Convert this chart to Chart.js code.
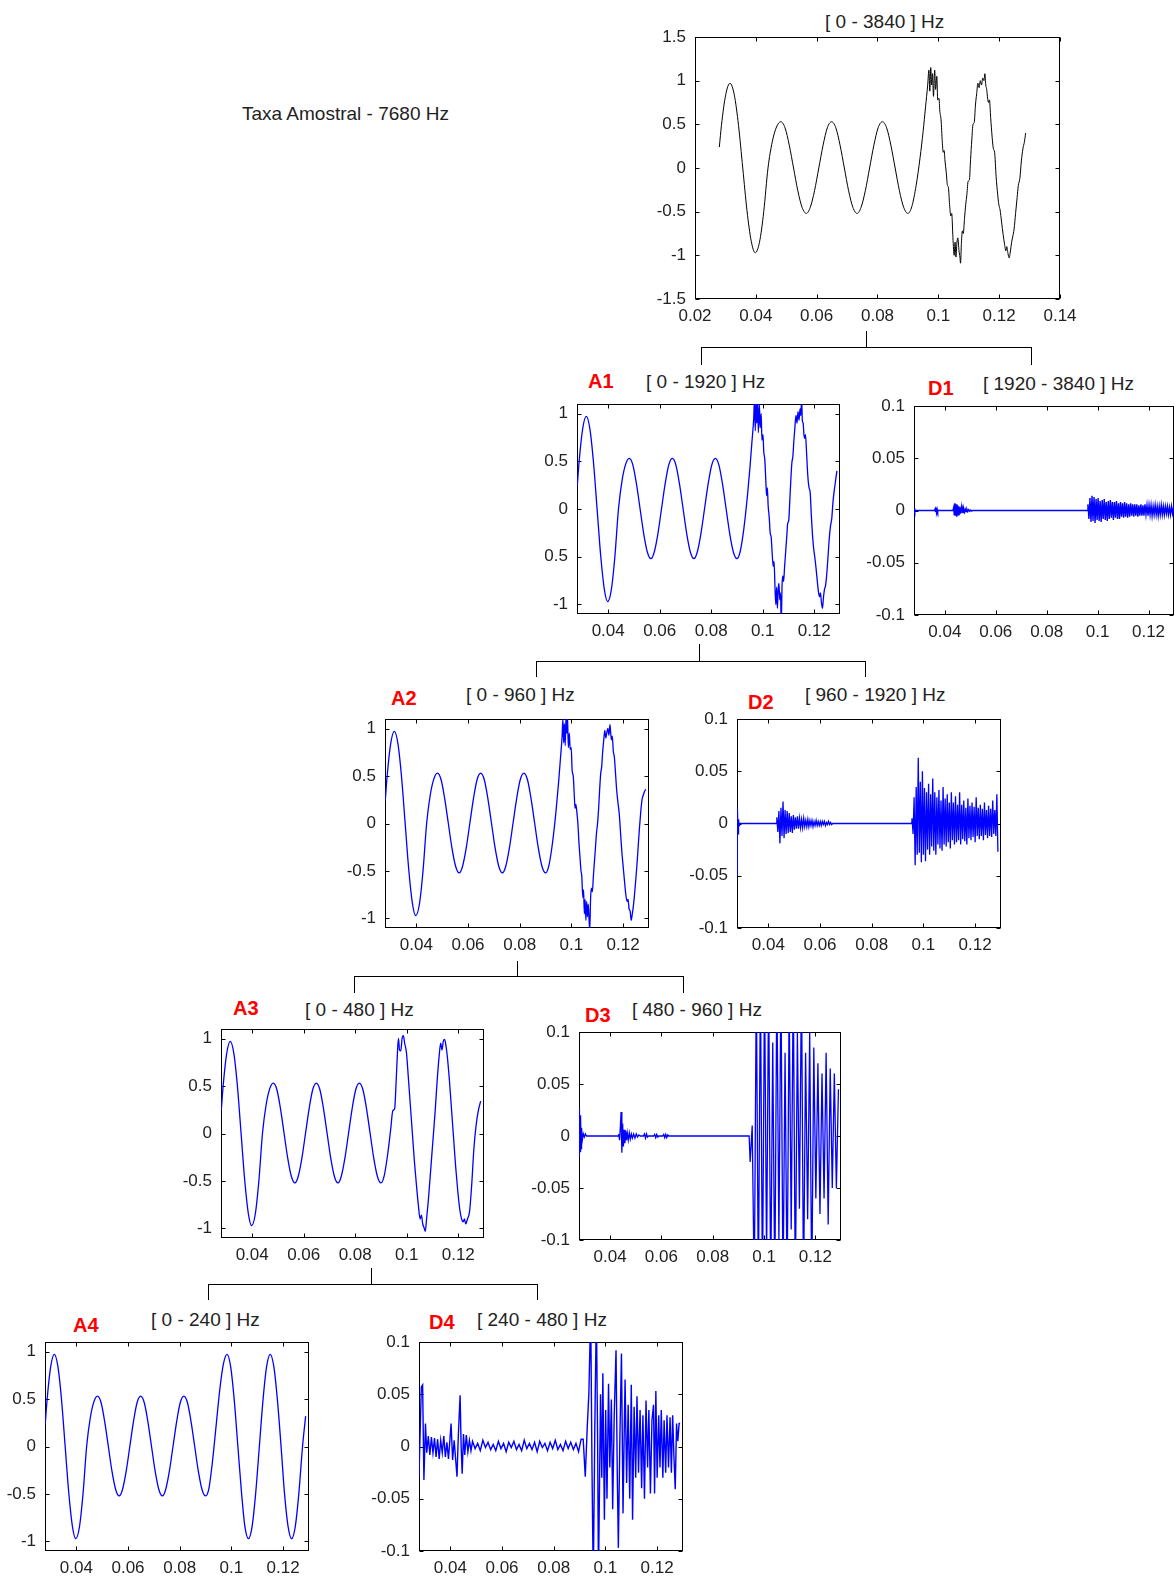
<!DOCTYPE html>
<html>
<head>
<meta charset="utf-8">
<script src="https://cdn.jsdelivr.net/npm/chart.js@4.4.1/dist/chart.umd.min.js"></script>
<style>
html, body { margin: 0; padding: 0; overflow: hidden; background: #fff; }
body { position: relative; width: 1174px; height: 1577px; font-family: "Liberation Sans", Arial, sans-serif; }
.painel { position: absolute; }
.titulo { position: absolute; white-space: nowrap; font-size: 19px; line-height: 19px; color: #222; }
.rotulo { position: absolute; white-space: nowrap; font-size: 20px; line-height: 20px; font-weight: bold; color: #f00; }
.haste { position: absolute; width: 0; border-left: 1px solid #000; }
.ramo { position: absolute; border: 1px solid #000; border-bottom: none; }
</style>
</head>
<body>

<div class="titulo" style="left:242px;top:104px">Taxa Amostral - 7680 Hz</div>

<div class="titulo" style="left:825px;top:12px">[ 0 - 3840 ] Hz</div>
<div class="rotulo" style="left:588px;top:371px">A1</div>
<div class="titulo" style="left:646px;top:372px">[ 0 - 1920 ] Hz</div>
<div class="rotulo" style="left:928px;top:378px">D1</div>
<div class="titulo" style="left:983px;top:374px">[ 1920 - 3840 ] Hz</div>
<div class="rotulo" style="left:391px;top:688px">A2</div>
<div class="titulo" style="left:466px;top:685px">[ 0 - 960 ] Hz</div>
<div class="rotulo" style="left:748px;top:692px">D2</div>
<div class="titulo" style="left:805px;top:685px">[ 960 - 1920 ] Hz</div>
<div class="rotulo" style="left:233px;top:998px">A3</div>
<div class="titulo" style="left:305px;top:1000px">[ 0 - 480 ] Hz</div>
<div class="rotulo" style="left:585px;top:1005px">D3</div>
<div class="titulo" style="left:632px;top:1000px">[ 480 - 960 ] Hz</div>
<div class="rotulo" style="left:73px;top:1315px">A4</div>
<div class="titulo" style="left:151px;top:1310px">[ 0 - 240 ] Hz</div>
<div class="rotulo" style="left:429px;top:1312px">D4</div>
<div class="titulo" style="left:477px;top:1310px">[ 240 - 480 ] Hz</div>

<!-- arvore de decomposicao -->
<div class="haste" style="left:866px;top:331px;height:16px"></div>
<div class="ramo" style="left:701px;top:347px;width:329px;height:17px"></div>
<div class="haste" style="left:699px;top:644px;height:17px"></div>
<div class="ramo" style="left:536px;top:661px;width:328px;height:15px"></div>
<div class="haste" style="left:517px;top:961px;height:15px"></div>
<div class="ramo" style="left:354px;top:976px;width:328px;height:16px"></div>
<div class="haste" style="left:371px;top:1268px;height:16px"></div>
<div class="ramo" style="left:208px;top:1284px;width:328px;height:15px"></div>

<script>
// ---- dados (tempo em s, amplitude) ----
const trechoSuave = [[0.0280,0.24],[0.0287,0.49],[0.0301,0.84],[0.0315,0.97],[0.0329,0.84],[0.0343,0.49],[0.0357,0.0],[0.0371,-0.49],[0.0385,-0.84],[0.0398,-0.97],[0.0412,-0.85],[0.0426,-0.5],[0.0440,0.0],[0.0454,0.3],[0.0468,0.47],[0.0482,0.53],[0.0496,0.46],[0.0510,0.26],[0.0524,0.0],[0.0538,-0.26],[0.0552,-0.45],[0.0566,-0.52],[0.0579,-0.45],[0.0593,-0.26],[0.0607,0.0],[0.0621,0.26],[0.0635,0.46],[0.0649,0.53],[0.0663,0.46],[0.0677,0.26],[0.0691,0.0],[0.0705,-0.26],[0.0719,-0.45],[0.0733,-0.52],[0.0746,-0.45],[0.0760,-0.26],[0.0774,0.0],[0.0788,0.26],[0.0802,0.46],[0.0816,0.53],[0.0830,0.46],[0.0844,0.26],[0.0858,0.0],[0.0872,-0.26],[0.0886,-0.45],[0.0900,-0.52],[0.0913,-0.44]];

const originalFim = [[0.0927,-0.2],[0.0940,0.12],[0.0950,0.42],[0.0958,0.7],[0.0965,0.95],[0.0969,1.12],[0.0972,0.88],[0.0975,1.15],[0.0978,0.95],[0.0981,1.08],[0.0984,0.82],[0.0988,1.12],[0.0991,0.9],[0.0995,1.05],[0.0998,0.78],[0.1002,0.8],[0.1005,0.65],[0.1009,0.55],[0.1013,0.3],[0.1016,0.18],[0.1019,0.2],[0.1022,0.08],[0.1026,-0.05],[0.1030,-0.2],[0.1033,-0.22],[0.1037,-0.42],[0.1041,-0.55],[0.1044,-0.52],[0.1048,-0.8],[0.1052,-1.0],[0.1055,-0.85],[0.1058,-1.02],[0.1061,-0.86],[0.1064,-0.8],[0.1068,-0.95],[0.1071,-1.02],[0.1073,-1.09],[0.1076,-0.85],[0.1079,-0.72],[0.1082,-0.75],[0.1086,-0.58],[0.1090,-0.42],[0.1094,-0.3],[0.1098,-0.15],[0.1102,-0.14],[0.1106,0.1],[0.1110,0.32],[0.1114,0.5],[0.1118,0.52],[0.1122,0.72],[0.1126,0.85],[0.1130,0.97],[0.1134,0.92],[0.1138,1.0],[0.1142,0.95],[0.1146,1.03],[0.1150,1.0],[0.1153,1.08],[0.1156,0.95],[0.1159,0.9],[0.1162,0.8],[0.1165,0.75],[0.1168,0.78],[0.1172,0.58],[0.1177,0.35],[0.1181,0.22],[0.1185,0.18],[0.1190,-0.1],[0.1195,-0.3],[0.1199,-0.42],[0.1203,-0.48],[0.1208,-0.62],[0.1213,-0.76],[0.1218,-0.88],[0.1222,-0.95],[0.1225,-0.9],[0.1229,-0.98],[0.1233,-1.03],[0.1237,-0.95],[0.1241,-0.85],[0.1245,-0.78],[0.1249,-0.7],[0.1254,-0.52],[0.1259,-0.34],[0.1263,-0.2],[0.1268,-0.12],[0.1273,0.08],[0.1278,0.22],[0.1283,0.3],[0.1287,0.4]];

const a1Fim = [[0.0927,-0.2],[0.0940,0.12],[0.0950,0.42],[0.0958,0.7],[0.0965,0.95],[0.0968,1.15],[0.0971,0.82],[0.0974,1.12],[0.0977,0.9],[0.0980,1.15],[0.0983,0.8],[0.0987,1.1],[0.0990,0.85],[0.0994,1.0],[0.0997,0.72],[0.1001,0.78],[0.1004,0.6],[0.1008,0.52],[0.1012,0.3],[0.1015,0.14],[0.1018,0.22],[0.1021,0.04],[0.1025,-0.08],[0.1029,-0.25],[0.1033,-0.3],[0.1037,-0.48],[0.1041,-0.6],[0.1044,-0.55],[0.1048,-0.85],[0.1051,-1.0],[0.1054,-0.82],[0.1057,-1.04],[0.1060,-0.84],[0.1063,-0.78],[0.1066,-0.95],[0.1069,-0.88],[0.1072,-1.2],[0.1075,-0.8],[0.1078,-0.7],[0.1081,-0.76],[0.1085,-0.6],[0.1089,-0.45],[0.1093,-0.3],[0.1097,-0.15],[0.1101,-0.12],[0.1105,0.08],[0.1109,0.3],[0.1113,0.48],[0.1117,0.55],[0.1121,0.72],[0.1125,0.86],[0.1129,0.98],[0.1133,0.9],[0.1137,1.02],[0.1141,0.93],[0.1145,1.05],[0.1148,0.98],[0.1151,1.15],[0.1154,0.92],[0.1157,0.9],[0.1160,0.78],[0.1163,0.74],[0.1166,0.78],[0.1170,0.6],[0.1175,0.35],[0.1180,0.22],[0.1184,0.18],[0.1189,-0.08],[0.1194,-0.3],[0.1198,-0.42],[0.1202,-0.5],[0.1207,-0.62],[0.1212,-0.76],[0.1217,-0.88],[0.1221,-0.92],[0.1224,-0.88],[0.1228,-0.98],[0.1232,-1.04],[0.1236,-0.92],[0.1240,-0.84],[0.1244,-0.8],[0.1248,-0.7],[0.1253,-0.52],[0.1258,-0.32],[0.1263,-0.18],[0.1268,-0.1],[0.1273,0.08],[0.1278,0.2],[0.1283,0.3],[0.1288,0.4]];

const a2Fim = [[0.0927,-0.2],[0.0940,0.12],[0.0950,0.42],[0.0958,0.7],[0.0964,0.92],[0.0967,1.1],[0.0970,0.85],[0.0973,1.05],[0.0976,0.82],[0.0979,1.12],[0.0982,0.95],[0.0985,1.12],[0.0988,0.8],[0.0992,0.95],[0.0995,0.78],[0.0999,0.8],[0.1003,0.55],[0.1007,0.5],[0.1011,0.3],[0.1014,0.16],[0.1017,0.2],[0.1021,0.12],[0.1025,0.0],[0.1029,-0.2],[0.1033,-0.35],[0.1037,-0.5],[0.1040,-0.55],[0.1044,-0.78],[0.1047,-0.7],[0.1050,-0.95],[0.1053,-0.8],[0.1056,-1.02],[0.1059,-0.82],[0.1062,-0.98],[0.1065,-0.85],[0.1068,-1.0],[0.1071,-1.12],[0.1074,-0.8],[0.1077,-0.68],[0.1081,-0.72],[0.1085,-0.55],[0.1089,-0.4],[0.1093,-0.25],[0.1097,-0.1],[0.1101,0.0],[0.1105,0.15],[0.1109,0.35],[0.1113,0.52],[0.1117,0.6],[0.1121,0.76],[0.1125,0.88],[0.1129,0.98],[0.1133,0.9],[0.1137,0.96],[0.1141,1.0],[0.1145,0.93],[0.1149,1.04],[0.1152,0.95],[0.1155,0.88],[0.1158,0.92],[0.1162,0.76],[0.1166,0.7],[0.1170,0.55],[0.1175,0.35],[0.1180,0.22],[0.1185,0.1],[0.1190,-0.1],[0.1195,-0.3],[0.1200,-0.45],[0.1205,-0.6],[0.1210,-0.74],[0.1215,-0.82],[0.1219,-0.8],[0.1223,-0.9],[0.1227,-0.92],[0.1231,-1.02],[0.1235,-0.96],[0.1239,-0.88],[0.1243,-0.78],[0.1248,-0.62],[0.1253,-0.45],[0.1258,-0.25],[0.1263,-0.05],[0.1268,0.12],[0.1273,0.25],[0.1278,0.3],[0.1283,0.34],[0.1288,0.36]];

const a3Fim = [[0.0927,-0.2],[0.0938,0.05],[0.0946,0.24],[0.0953,0.26],[0.0959,0.55],[0.0964,0.85],[0.0968,1.0],[0.0972,0.88],[0.0977,0.87],[0.0982,1.0],[0.0987,1.03],[0.0992,0.95],[0.0999,0.85],[0.1006,0.6],[0.1014,0.3],[0.1022,0.0],[0.1030,-0.3],[0.1038,-0.55],[0.1045,-0.75],[0.1052,-0.9],[0.1057,-0.86],[0.1062,-0.95],[0.1067,-0.99],[0.1072,-1.03],[0.1077,-0.9],[0.1084,-0.7],[0.1092,-0.42],[0.1101,-0.1],[0.1110,0.22],[0.1118,0.55],[0.1126,0.82],[0.1132,0.95],[0.1137,0.88],[0.1142,0.97],[0.1147,0.99],[0.1152,0.93],[0.1158,0.8],[0.1166,0.55],[0.1174,0.25],[0.1182,-0.05],[0.1190,-0.35],[0.1198,-0.6],[0.1206,-0.8],[0.1213,-0.9],[0.1219,-0.93],[0.1224,-0.9],[0.1229,-0.95],[0.1236,-0.9],[0.1244,-0.82],[0.1252,-0.55],[0.1261,-0.15],[0.1270,0.1],[0.1278,0.24],[0.1287,0.34]];

const a4Fim = [[0.0927,-0.15],[0.0941,0.225],[0.0955,0.6],[0.0969,0.87],[0.0983,0.97],[0.0997,0.84],[0.1011,0.485],[0.1025,0.0],[0.1039,-0.485],[0.1052,-0.84],[0.1066,-0.97],[0.1080,-0.84],[0.1094,-0.485],[0.1108,0.0],[0.1122,0.485],[0.1136,0.84],[0.1150,0.97],[0.1164,0.84],[0.1178,0.485],[0.1192,0.0],[0.1205,-0.485],[0.1219,-0.84],[0.1233,-0.97],[0.1247,-0.84],[0.1261,-0.485],[0.1275,0.0],[0.1287,0.32]];

// detalhes: trechos quietos como pares, rajadas densas como amostras a partir de um instante inicial
const d1Inicio = [[0.0279,0.002],[0.0282,-0.001],[0.0285,0],[0.0360,0],[0.0362,0.0015],[0.0364,-0.0015],[0.0366,0.001],[0.0368,-0.001],[0.0370,0.0012],[0.0372,-0.001],[0.0374,0],[0.0432,0],[0.0435,0.003],[0.0437,-0.004],[0.0440,0.007],[0.0442,-0.005],[0.0445,0.006],[0.0447,-0.006],[0.0450,0.005],[0.0452,-0.004],[0.0455,0.004],[0.0457,-0.004],[0.0460,0.003],[0.0462,-0.003],[0.0465,0.003],[0.0467,-0.002],[0.0470,0.002],[0.0472,-0.002],[0.0475,0.0015],[0.0478,-0.0015],[0.0481,0.001],[0.0484,-0.001],[0.0487,0.001],[0.0490,-0.001],[0.0494,0.0008],[0.0498,-0.0008],[0.0502,0.0005],[0.0506,-0.0005],[0.0510,0],[0.0960,0]];
const d1Rajada = [0.006,-0.008,0.012,-0.011,0.014,-0.01,0.013,-0.012,0.011,-0.009,0.012,
  -0.01,0.009,-0.011,0.01,-0.008,0.011,-0.009,0.008,-0.01,0.009,-0.008,0.01,-0.007,0.008,-0.009,
  0.008,-0.007,0.009,-0.008,0.007,-0.008,0.008,-0.006,0.007,-0.007,0.008,-0.006,0.007,-0.007,0.006,-0.006,0.007,-0.005,0.006,-0.006,
  0.006,-0.005,0.006,-0.006,0.005,-0.005,0.006,-0.005,0.005,-0.005,0.006,-0.004,0.005,-0.005,0.005,-0.004,0.005,-0.005,0.004,-0.004,
  0.005,-0.004,0.004,-0.005,0.004,-0.004,0.005,-0.004,0.004,-0.004,0.004,-0.003,0.004,-0.004,0.003,-0.004,0.004,-0.003,0.003,-0.003];

const d2Inicio = [[0.0279,0.0],[0.0280,-0.05],[0.0281,0.015],[0.0283,-0.01],[0.0285,0.004],[0.0287,-0.002],[0.0289,0],[0.0432,0]];
const d2Rajada1 = [0.006,-0.008,0.012,-0.019,0.015,-0.012,0.021,-0.014,0.013,-0.01,0.012,-0.009,0.01,-0.008,0.007,-0.009,0.008,-0.006,0.006,-0.005,0.007,-0.005,0.005,-0.004,0.004,-0.004,0.005,-0.003,0.003,-0.003,0.004,-0.003,0.003,-0.002,0.003,-0.003,0.002,-0.002,0.003,-0.002,0.002,-0.002,0.002,-0.002,0.002,-0.001,0.002,-0.002,0.001,-0.001,0.002,-0.001,0.001,-0.001,0.0];
const d2Meio = [[0.0650,0],[0.0955,0]];
const d2Rajada2 = [0.005,-0.01,0.025,-0.04,0.035,-0.03,0.063,-0.028,0.04,-0.037,
  0.05,-0.03,0.034,-0.036,0.03,-0.025,0.038,-0.03,0.028,-0.022,
  0.043,-0.026,0.03,-0.03,0.025,-0.02,0.032,-0.024,0.022,-0.026,
  0.035,-0.02,0.024,-0.022,0.028,-0.018,0.02,-0.024,0.03,-0.016,
  0.02,-0.02,0.026,-0.018,0.018,-0.016,0.03,-0.02,0.018,-0.015,
  0.022,-0.017,0.015,-0.02,0.024,-0.014,0.017,-0.016,0.02,-0.013,
  0.016,-0.018,0.025,-0.012,0.015,-0.015,0.018,-0.012,0.014,-0.016,
  0.02,-0.011,0.013,-0.014,0.017,-0.012,0.014,-0.013,0.022,-0.01,
  0.013,-0.012,0.028,-0.027];

const d3Inicio = [[0.0279,0],[0.0280,-0.02],[0.0281,0.027],[0.0283,-0.015],[0.0285,0.02],[0.0287,-0.012],[0.0289,0.008],[0.0292,-0.004],[0.0296,0.002],[0.0300,-0.001],[0.0304,0.002],[0.0308,0],[0.0432,0],[0.0434,0.002],[0.0437,-0.004],[0.0440,0.008],[0.0443,0.023],[0.0446,-0.016],[0.0449,0.012],[0.0452,-0.01],[0.0455,0.006],[0.0458,-0.007],[0.0461,0.005],[0.0464,-0.004],[0.0467,0.003],[0.0471,-0.004],[0.0475,0.003],[0.0479,-0.003],[0.0483,0.002],[0.0487,-0.002],[0.0492,0.002],[0.0497,-0.002],[0.0502,0.002],[0.0507,-0.001],[0.0512,0.001],[0.0518,0],[0.0530,0],[0.0534,0.002],[0.0538,-0.002],[0.0542,0.002],[0.0546,-0.001],[0.0550,0],[0.0570,0],[0.0574,0.0015],[0.0578,-0.0015],[0.0582,0.0015],[0.0586,-0.001],[0.0590,0],[0.0605,0],[0.0609,0.0015],[0.0613,-0.0015],[0.0617,0.0015],[0.0621,-0.0015],[0.0625,0.001],[0.0629,0],[0.0942,0]];
const d3Rajada = [-0.025,0.01,-0.15,0.15,-0.15,0.15,-0.15,0.15,-0.12,0.15,
  -0.15,0.09,-0.15,0.15,-0.1,0.15,-0.15,0.08,-0.15,0.13,
  -0.09,0.15,-0.15,0.1,-0.07,0.15,-0.15,0.08,-0.08,0.1,
  -0.15,0.085,-0.06,0.07,-0.075,0.06,-0.06,0.08,-0.085,0.065,
  -0.05,0.06,-0.05,0.045];

const d4Inicio = [[0.0279,-0.029],[0.0283,0.01],[0.0288,0.057],[0.0293,0.059],[0.0298,-0.032],[0.0304,0.022],[0.0309,-0.006],[0.0315,0.01],[0.0321,-0.008],[0.0327,0.009],[0.0333,-0.006],[0.0339,0.008],[0.0345,-0.01],[0.0351,0.007],[0.0357,-0.012],[0.0363,0.006],[0.0369,-0.006],[0.0375,0.01],[0.0381,-0.01],[0.0387,0.004],[0.0393,-0.012],[0.0399,0.008],[0.0403,0.022],[0.0409,-0.013],[0.0415,0.006],[0.0420,-0.01],[0.0426,-0.029],[0.0431,0.01],[0.0438,0.049],[0.0442,0.0],[0.0446,-0.026],[0.0451,0.012],[0.0456,-0.008],[0.0462,0.011],[0.0468,-0.005],[0.0474,0.006],[0.0480,-0.004]];
const d4Meio = [0.005,-0.002,0.003,-0.004,0.006,-0.001,0.004,-0.003,0.002,-0.004,0.005,-0.002,0.003,-0.005,0.004,-0.001,0.005,-0.003,0.002,-0.004,0.006,-0.002,0.003,-0.003,0.004,-0.005,0.005,-0.001,0.003,-0.004,0.004,-0.002,0.006,-0.003,0.002,-0.004,0.005,-0.002,0.004,-0.003,0.003,-0.005,0.007];
const d4Fim = [[0.0914,0.007],[0.0922,-0.029],[0.0930,0.02],[0.0936,0.051],[0.0943,0.13],[0.0948,-0.02],[0.0953,-0.13],[0.0959,0.02],[0.0965,0.13],[0.0970,0.0],[0.0973,-0.13],[0.0981,0.05],[0.0986,-0.03],[0.0990,0.07],[0.0996,-0.07],[0.1001,0.035],[0.1006,-0.05],[0.1012,0.06],[0.1017,-0.02],[0.1023,0.045],[0.1028,-0.06],[0.1034,0.03],[0.1041,0.092],[0.1046,-0.03],[0.1050,-0.097],[0.1056,0.01],[0.1062,0.089],[0.1068,-0.064],[0.1073,0.02],[0.1076,0.064],[0.1082,-0.035],[0.1088,0.04],[0.1094,-0.05],[0.1100,0.059],[0.1105,-0.07],[0.1111,0.038],[0.1117,-0.03],[0.1122,0.048],[0.1128,-0.025],[0.1134,0.035],[0.1140,-0.04],[0.1145,0.03],[0.1151,-0.05],[0.1157,0.044],[0.1163,-0.02],[0.1168,0.035],[0.1174,-0.045],[0.1180,0.025],[0.1186,0.04],[0.1190,-0.045],[0.1195,0.053],[0.1200,-0.03],[0.1206,0.03],[0.1211,-0.02],[0.1216,0.035],[0.1222,-0.03],[0.1227,0.025],[0.1233,-0.025],[0.1238,0.03],[0.1244,-0.02],[0.1250,0.028],[0.1255,-0.025],[0.1260,0.03],[0.1265,-0.01],[0.1270,-0.041],[0.1275,0.022],[0.1280,0.005],[0.1285,0.022],[0.1289,0.022]];

// marcas dos eixos
const xTicksTopo = [0.02, 0.04, 0.06, 0.08, 0.1, 0.12, 0.14];
const xRotTopo = ['0.02', '0.04', '0.06', '0.08', '0.1', '0.12', '0.14'];
const yTicksTopo = [-1.5, -1, -0.5, 0, 0.5, 1, 1.5];
const yRotTopo = ['-1.5', '-1', '-0.5', '0', '0.5', '1', '1.5'];
const xTicks = [0.04, 0.06, 0.08, 0.1, 0.12];
const xRot = ['0.04', '0.06', '0.08', '0.1', '0.12'];
const yTicksA = [-1, -0.5, 0, 0.5, 1];
const yRotA = ['-1', '-0.5', '0', '0.5', '1'];
const yRotA1 = ['-1', '0.5', '0', '0.5', '1'];
const yTicksD = [-0.1, -0.05, 0, 0.05, 0.1];
const yRotD = ['-0.1', '-0.05', '0', '0.05', '0.1'];

// ---- montagem ----
function amostras(t0, passo, valores) {
  return valores.map((v, i) => [t0 + i * passo, v]);
}
const serie = {
  orig: trechoSuave.concat(originalFim),
  a1: trechoSuave.concat(a1Fim),
  a2: trechoSuave.concat(a2Fim),
  a3: trechoSuave.concat(a3Fim),
  a4: trechoSuave.concat(a4Fim),
  d1: d1Inicio.concat(amostras(0.0962, 0.0004, d1Rajada)),
  d2: d2Inicio.concat(amostras(0.0433, 0.0004, d2Rajada1), d2Meio, amostras(0.0956, 0.0004, d2Rajada2)),
  d3: d3Inicio.concat(amostras(0.0946, 0.0008, d3Rajada)),
  d4: d4Inicio.concat(amostras(0.0486, 0.001, d4Meio), d4Fim)
};

const paineis = [
  {s:'orig', L:695, T:37,   R:1060, B:299,  x:[0.02, 0.14],    xt:xTicksTopo, xr:xRotTopo, y:[-1.5, 1.5], yt:yTicksTopo, yr:yRotTopo, cor:'#000', w:1, suave:true},
  {s:'a1',   L:577, T:404,  R:840,  B:614,  x:[0.0279, 0.13], xt:xTicks, xr:xRot, y:[-1.1, 1.1], yt:yTicksA, yr:yRotA1, cor:'#00f', w:1.3, suave:true},
  {s:'d1',   L:914, T:406,  R:1174, B:615,  x:[0.0279, 0.13], xt:xTicks, xr:xRot, y:[-0.1, 0.1], yt:yTicksD, yr:yRotD, cor:'#00f', w:1.4, suave:false},
  {s:'a2',   L:385, T:719,  R:649,  B:928,  x:[0.0279, 0.13], xt:xTicks, xr:xRot, y:[-1.1, 1.1], yt:yTicksA, yr:yRotA, cor:'#00f', w:1.3, suave:true},
  {s:'d2',   L:737, T:719,  R:1001, B:928,  x:[0.0279, 0.13], xt:xTicks, xr:xRot, y:[-0.1, 0.1], yt:yTicksD, yr:yRotD, cor:'#00f', w:1.3, suave:false},
  {s:'a3',   L:221, T:1029, R:484,  B:1238, x:[0.0279, 0.13], xt:xTicks, xr:xRot, y:[-1.1, 1.1], yt:yTicksA, yr:yRotA, cor:'#00f', w:1.3, suave:true},
  {s:'d3',   L:579, T:1032, R:841,  B:1240, x:[0.0279, 0.13], xt:xTicks, xr:xRot, y:[-0.1, 0.1], yt:yTicksD, yr:yRotD, cor:'#00f', w:1.3, suave:false},
  {s:'a4',   L:45,  T:1342, R:309,  B:1551, x:[0.0279, 0.13], xt:xTicks, xr:xRot, y:[-1.1, 1.1], yt:yTicksA, yr:yRotA, cor:'#00f', w:1.3, suave:true},
  {s:'d4',   L:419, T:1342, R:683,  B:1551, x:[0.0279, 0.13], xt:xTicks, xr:xRot, y:[-0.1, 0.1], yt:yTicksD, yr:yRotD, cor:'#00f', w:1.4, suave:false}
];

// caixa estilo matlab: borda e marcas para dentro nos quatro lados (desenhada antes da curva)
const caixaMatlab = {
  id: 'caixaMatlab',
  beforeDatasetsDraw(chart) {
    const {ctx, chartArea: a} = chart;
    const sx = chart.scales.x, sy = chart.scales.y;
    const L = Math.round(a.left) + 0.5, R = Math.round(a.right) - 0.5;
    const T = Math.round(a.top) + 0.5, B = Math.round(a.bottom) - 0.5;
    ctx.save();
    ctx.strokeStyle = '#000';
    ctx.lineWidth = 1;
    ctx.strokeRect(L, T, R - L, B - T);
    ctx.beginPath();
    sx.ticks.forEach(t => {
      const p = Math.round(sx.getPixelForValue(t.value)) + 0.5;
      ctx.moveTo(p, B); ctx.lineTo(p, B - 4);
      ctx.moveTo(p, T); ctx.lineTo(p, T + 4);
    });
    sy.ticks.forEach(t => {
      const p = Math.round(sy.getPixelForValue(t.value)) + 0.5;
      ctx.moveTo(L, p); ctx.lineTo(L + 4, p);
      ctx.moveTo(R, p); ctx.lineTo(R - 4, p);
    });
    ctx.stroke();
    ctx.restore();
  }
};

Chart.defaults.font.family = '"Liberation Sans", Arial, sans-serif';
Chart.defaults.font.size = 17;
Chart.defaults.color = '#222';

// margens do canvas em volta da area do grafico (topo cobre a meia altura do rotulo + padding)
const ESQ = 60, TOPO = 22, DIR = 30, BAIXO = 40;

paineis.forEach(p => {
  const w = p.R - p.L + ESQ + DIR;
  const h = p.B - p.T + TOPO + BAIXO;
  const div = document.createElement('div');
  div.className = 'painel';
  div.style.left = (p.L - ESQ) + 'px';
  div.style.top = (p.T - TOPO) + 'px';
  div.style.width = w + 'px';
  div.style.height = h + 'px';
  const cv = document.createElement('canvas');
  cv.width = w; cv.height = h;
  cv.style.width = w + 'px'; cv.style.height = h + 'px';
  div.appendChild(cv);
  document.body.appendChild(div);

  new Chart(cv.getContext('2d'), {
    type: 'line',
    data: {
      datasets: [{
        data: serie[p.s].map(d => ({x: d[0], y: d[1]})),
        borderColor: p.cor,
        borderWidth: p.w,
        pointRadius: 0,
        fill: false,
        tension: 0,
        cubicInterpolationMode: p.suave ? 'monotone' : 'default'
      }]
    },
    options: {
      responsive: false,
      animation: false,
      events: [],
      layout: { padding: { left: 0, top: TOPO, right: DIR, bottom: 0 } },
      plugins: { legend: { display: false }, tooltip: { enabled: false } },
      scales: {
        x: {
          type: 'linear', min: p.x[0], max: p.x[1],
          afterFit: s => { s.height = BAIXO; },
          afterBuildTicks: s => { s.ticks = p.xt.map(v => ({value: v})); },
          ticks: { callback: (v, i) => p.xr[i], autoSkip: false, maxRotation: 0, padding: 7 },
          grid: { display: false, drawTicks: false },
          border: { display: false }
        },
        y: {
          type: 'linear', min: p.y[0], max: p.y[1],
          afterFit: s => { s.width = ESQ; },
          afterBuildTicks: s => { s.ticks = p.yt.map(v => ({value: v})); },
          ticks: { callback: (v, i) => p.yr[i], autoSkip: false, padding: 9 },
          grid: { display: false, drawTicks: false },
          border: { display: false }
        }
      }
    },
    plugins: [caixaMatlab]
  });
});
</script>
</body>
</html>
